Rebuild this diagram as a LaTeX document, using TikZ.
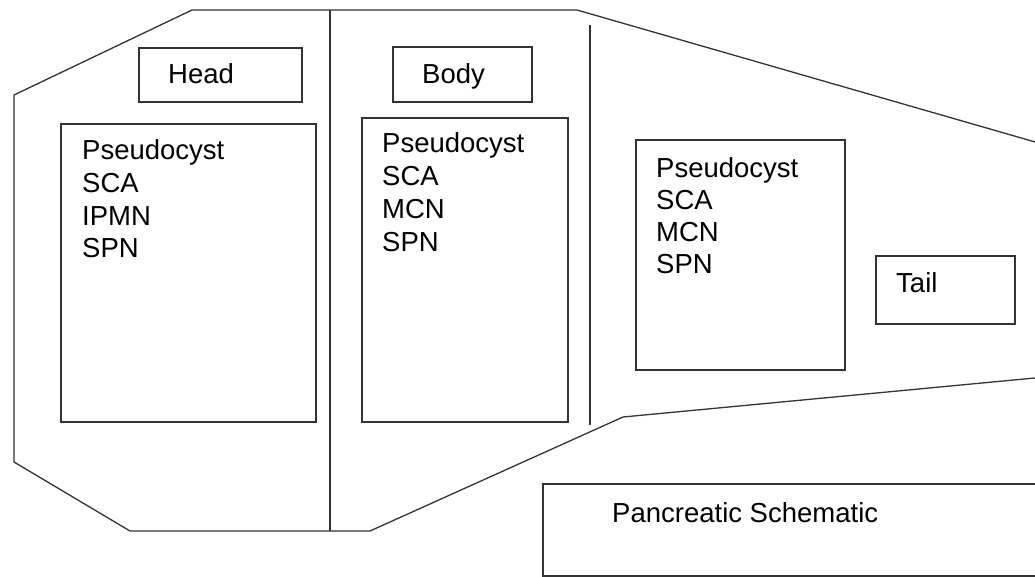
\documentclass[tikz,border=0pt]{standalone}
\usepackage{fontspec}
\setmainfont{Liberation Sans}
\begin{document}
\begin{tikzpicture}[x=1pt,y=-1pt,
  outline/.style={draw=black!80, line width=1.3pt, line join=miter},
  box/.style={draw=black!80, line width=1.3pt, anchor=north west, inner sep=0pt, outer sep=0pt},
  txt/.style={anchor=base west, inner sep=0pt, font=\fontsize{27.5}{33}\selectfont, text=black}]
\useasboundingbox (0,0) rectangle (1035,576);
\clip (0,0) rectangle (1035,576);
% pancreas outline
\draw[outline] (1040,377.5) -- (623,417) -- (370,531) -- (130,531) -- (14,462)
  -- (14,95) -- (192,10) -- (577,10) -- (1040,143.4);
% dividers
\draw[outline] (330,10) -- (330,531);
\draw[outline] (590,25) -- (590,425);
% boxes
\node[box, minimum width=163, minimum height=54] (headbox) at (139,48) {};
\node[box, minimum width=255, minimum height=298] (headlist) at (61,124) {};
\node[box, minimum width=139, minimum height=55] (bodybox) at (393,47) {};
\node[box, minimum width=206, minimum height=304] (bodylist) at (362,118) {};
\node[box, minimum width=209, minimum height=230] (taillist) at (636,140) {};
\node[box, minimum width=139, minimum height=68] (tailbox) at (876,256) {};
\node[box, minimum width=502, minimum height=92] (schembox) at (543,484) {};
% labels
\node[txt] (head) at (168,83) {Head};
\node[txt] (body) at (422,83) {Body};
\node[txt] (tail) at (896,292) {Tail};
\node[txt] (schem) at (612,522) {Pancreatic Schematic};
% head list
\node[txt] (h1) at (82,159) {Pseudocyst};
\node[txt] (h2) at (82,192) {SCA};
\node[txt] (h3) at (82,225) {IPMN};
\node[txt] (h4) at (82,257) {SPN};
% body list
\node[txt] (b1) at (382,152) {Pseudocyst};
\node[txt] (b2) at (382,185) {SCA};
\node[txt] (b3) at (382,218) {MCN};
\node[txt] (b4) at (382,251) {SPN};
% tail list
\node[txt] (t1) at (656,177) {Pseudocyst};
\node[txt] (t2) at (656,209) {SCA};
\node[txt] (t3) at (656,241) {MCN};
\node[txt] (t4) at (656,273) {SPN};
\end{tikzpicture}
\end{document}
